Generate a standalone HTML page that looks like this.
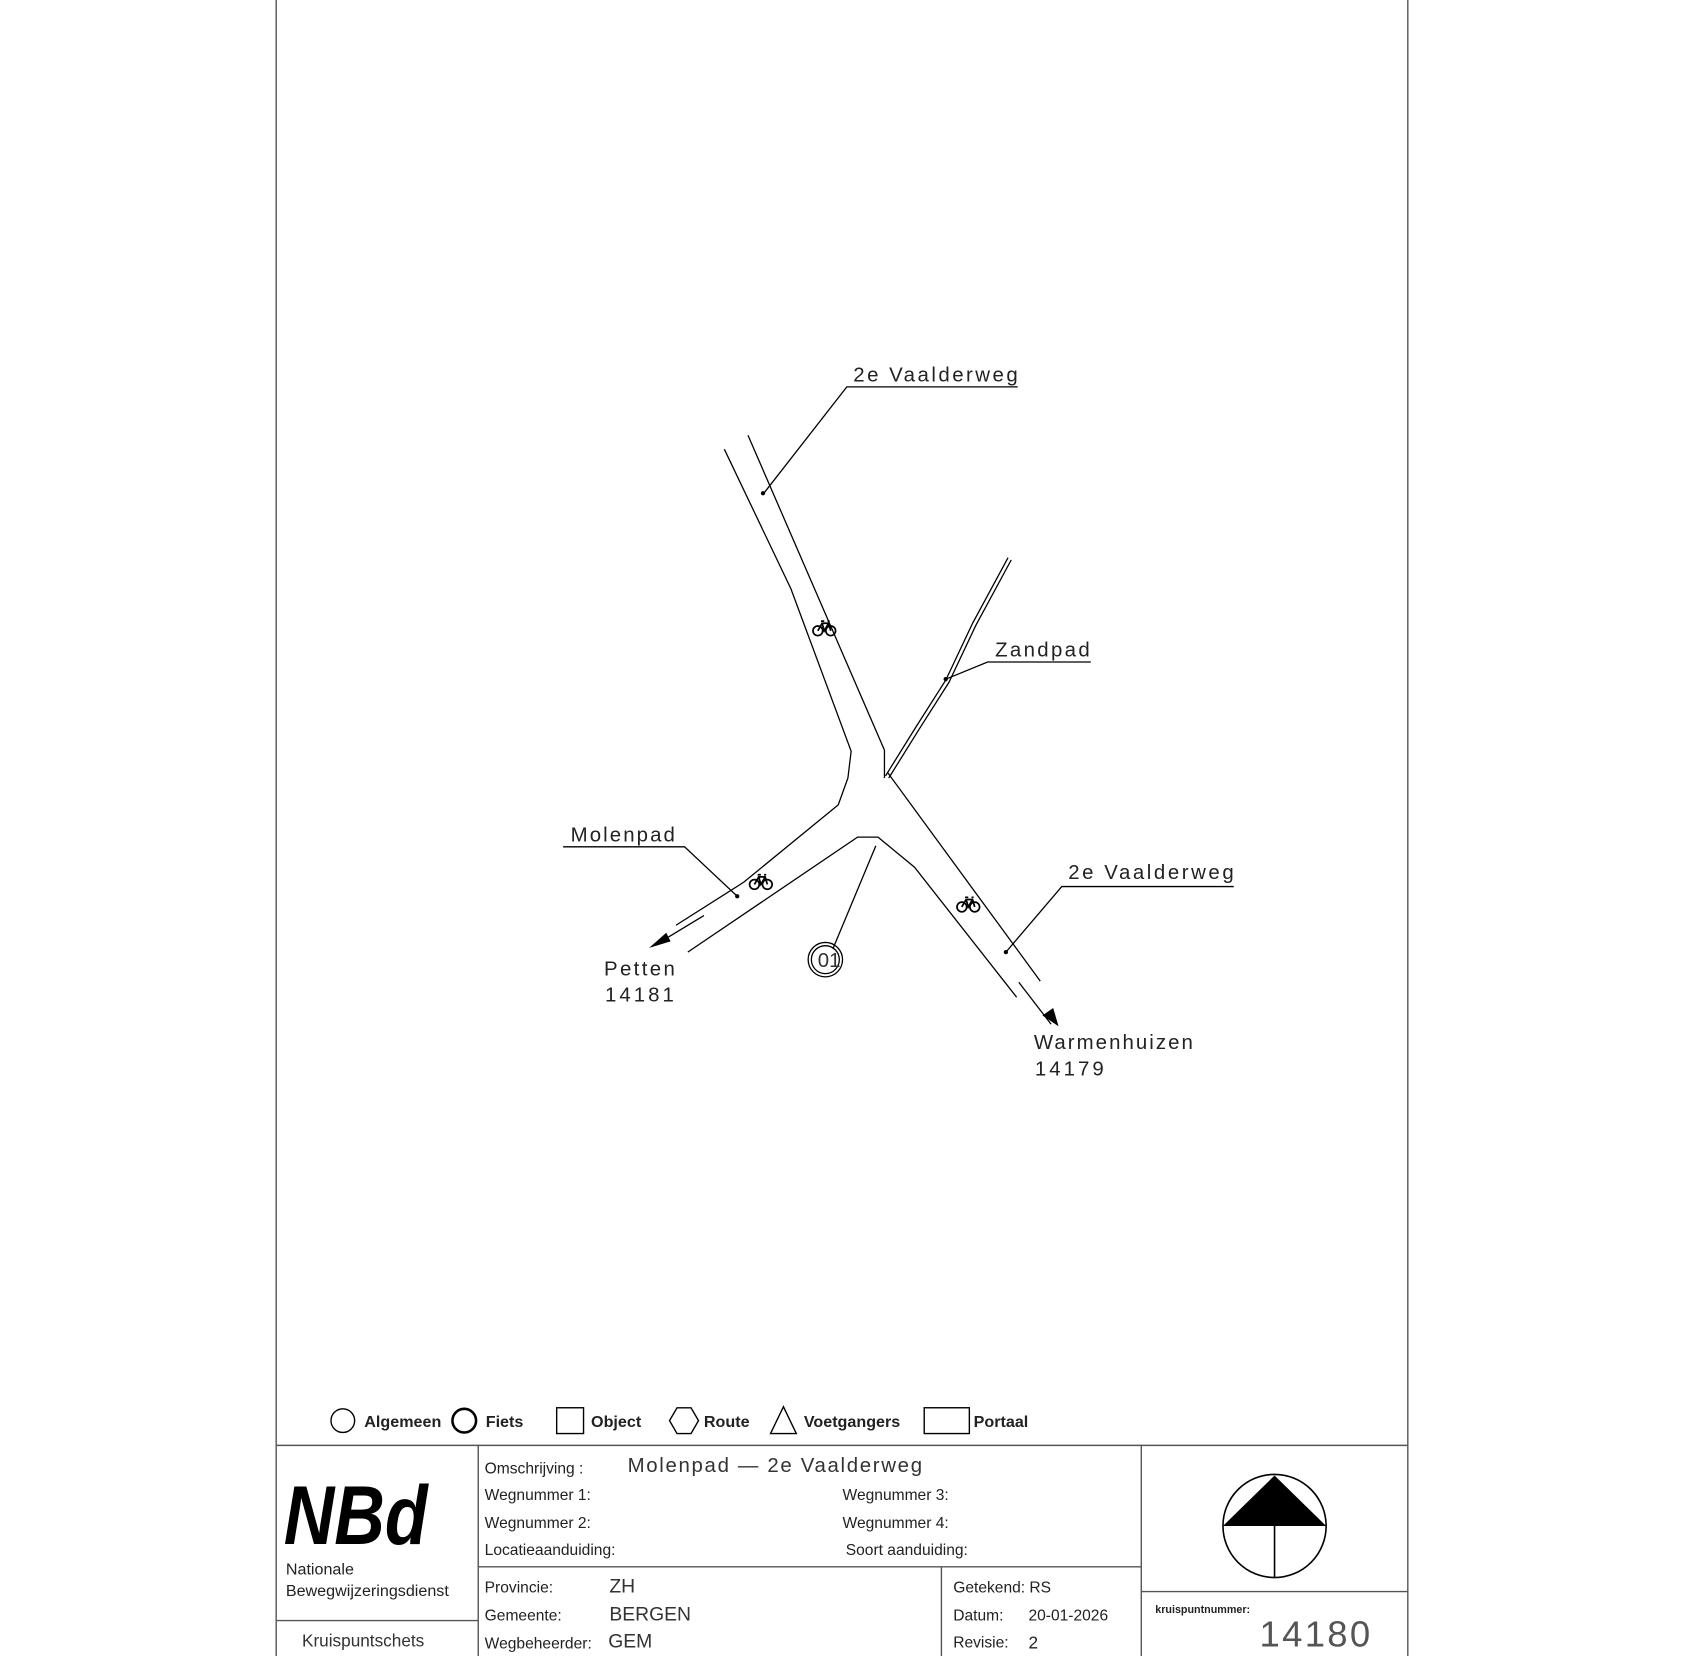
<!DOCTYPE html>
<html><head><meta charset="utf-8"><style>
html,body{margin:0;padding:0;background:#fff;}
svg{display:block;}
text{font-family:"Liberation Sans",sans-serif;fill:#222;}
.l{font-size:19px;}
.s{font-size:14.5px;}
.g{font-size:15px;font-weight:bold;}
</style></head><body>
<svg width="1684" height="1656" viewBox="0 0 1567 1541" preserveAspectRatio="none" xmlns="http://www.w3.org/2000/svg">
<defs>
<g id="bike" fill="none" stroke="#000" stroke-width="1.6">
<circle cx="-6" cy="3" r="4.5"/><circle cx="6" cy="3" r="4.5"/>
<path d="M-6 3 L-2 -4 L4 -4 L6 3 M-2 -4 L0 3 L4 -4 M-3 -6 L0 -6 M3 -6 L5 -6"/>
</g>
</defs>
<g stroke="#555" stroke-width="1.3" fill="none">
<line x1="257" y1="0" x2="257" y2="1545"/>
<line x1="1310" y1="0" x2="1310" y2="1545"/>
<line x1="257" y1="1345" x2="1310" y2="1345"/>
<line x1="445" y1="1345" x2="445" y2="1545"/>
<line x1="257" y1="1508" x2="445" y2="1508"/>
<line x1="445" y1="1458" x2="1062" y2="1458"/>
<line x1="876" y1="1458" x2="876" y2="1545"/>
<line x1="1062" y1="1345" x2="1062" y2="1545"/>
<line x1="1062" y1="1481" x2="1310" y2="1481"/>
</g>
<!-- legend -->
<g stroke="#000" fill="none" stroke-width="1.3">
<circle cx="319" cy="1322" r="11"/>
<circle cx="432" cy="1322" r="11" stroke-width="2.4"/>
<rect x="518" y="1310" width="25" height="24"/>
<polygon points="623,1322 630,1310 643,1310 650,1322 643,1334 630,1334"/>
<polygon points="729,1309 741,1334 717,1334"/>
<rect x="860" y="1310" width="42" height="24"/>
</g>
<text class="g" x="339" y="1328">Algemeen</text>
<text class="g" x="452" y="1328">Fiets</text>
<text class="g" x="550" y="1328">Object</text>
<text class="g" x="655" y="1328">Route</text>
<text class="g" x="748" y="1328">Voetgangers</text>
<text class="g" x="906" y="1328">Portaal</text>
<!-- logo -->
<text x="264" y="1437" style="font-size:78px;font-weight:bold;font-style:italic;fill:#000" textLength="134" lengthAdjust="spacingAndGlyphs">NBd</text>
<text x="266" y="1465" style="font-size:15px">Nationale</text>
<text x="266" y="1485" style="font-size:15px">Bewegwijzeringsdienst</text>
<text x="281" y="1532" style="font-size:16px;fill:#333">Kruispuntschets</text>
<!-- middle -->
<text class="s" x="451" y="1371">Omschrijving :</text>
<text x="584" y="1370" style="font-size:19px;fill:#333" textLength="274">Molenpad — 2e Vaalderweg</text>
<text class="s" x="451" y="1396">Wegnummer 1:</text>
<text class="s" x="451" y="1422">Wegnummer 2:</text>
<text class="s" x="451" y="1447">Locatieaanduiding:</text>
<text class="s" x="784" y="1396">Wegnummer 3:</text>
<text class="s" x="784" y="1422">Wegnummer 4:</text>
<text class="s" x="787" y="1447">Soort aanduiding:</text>
<text class="s" x="451" y="1482">Provincie:</text>
<text x="567" y="1482" style="font-size:18px;fill:#333">ZH</text>
<text class="s" x="451" y="1508">Gemeente:</text>
<text x="567" y="1508" style="font-size:18px;fill:#333">BERGEN</text>
<text class="s" x="451" y="1534">Wegbeheerder:</text>
<text x="566" y="1533" style="font-size:18px;fill:#333">GEM</text>
<text class="s" x="887" y="1482">Getekend: RS</text>
<text class="s" x="887" y="1508">Datum:</text>
<text class="s" x="957" y="1508">20-01-2026</text>
<text class="s" x="887" y="1533">Revisie:</text>
<text x="957" y="1534" style="font-size:16px">2</text>
<!-- north -->
<circle cx="1186" cy="1420" r="48" fill="none" stroke="#000" stroke-width="1.5"/>
<polygon points="1186,1373 1234,1420 1138,1420" fill="#000"/>
<line x1="1186" y1="1420" x2="1186" y2="1468" stroke="#000" stroke-width="1.5"/>
<text x="1075" y="1501" style="font-size:10px;font-weight:bold">kruispuntnummer:</text>
<text x="1172" y="1532" style="font-size:34px;fill:#555" textLength="103">14180</text>
<!-- roads -->
<g stroke="#000" stroke-width="1.2" fill="none">
<polyline points="674,418 736,548 792,699 789,724 780,749 692,821 629,861"/>
<polyline points="696,405 823,698 823,724"/>
<polyline points="826,719 968,913"/>
<polyline points="640,886 798,779 817,779 851,807 946,928"/>
<polyline points="938,519 905,580 880,633 852,677 824,722"/>
<polyline points="941,521 908,582 883,635 855,679 827,724"/>
<line x1="655" y1="852" x2="612" y2="878"/>
<line x1="948" y1="914" x2="978" y2="953"/>
<polyline points="710,460 788,360 947,360"/>
<polyline points="880,632 919,616 1015,616"/>
<polyline points="524,788 637,788 686,834"/>
<polyline points="815,787 775,883"/>
<polyline points="936,886 988,825 1148,825"/>
<circle cx="768" cy="893" r="16"/>
<circle cx="768" cy="893" r="13"/>
</g>
<polygon points="604,882 620,868 624,876" fill="#000"/>
<polygon points="985,955 970,945 980,938" fill="#000"/>
<g fill="#000"><circle cx="710" cy="459" r="2"/><circle cx="880" cy="632" r="2"/><circle cx="686" cy="834" r="2"/><circle cx="936" cy="886" r="2"/></g>
<use href="#bike" x="767" y="584"/>
<use href="#bike" x="708" y="820"/>
<use href="#bike" x="901" y="841"/>
<text x="761" y="900" style="font-size:19px;fill:#333">01</text>
<!-- labels -->
<text class="l" x="794" y="355" textLength="153">2e Vaalderweg</text>
<text class="l" x="926" y="611" textLength="88">Zandpad</text>
<text class="l" x="531" y="783" textLength="97">Molenpad</text>
<text class="l" x="994" y="818" textLength="154">2e Vaalderweg</text>
<text class="l" x="562" y="908" textLength="66">Petten</text>
<text class="l" x="563" y="932" textLength="64">14181</text>
<text class="l" x="962" y="976" textLength="148">Warmenhuizen</text>
<text class="l" x="963" y="1001" textLength="64">14179</text>
</svg>
</body></html>
